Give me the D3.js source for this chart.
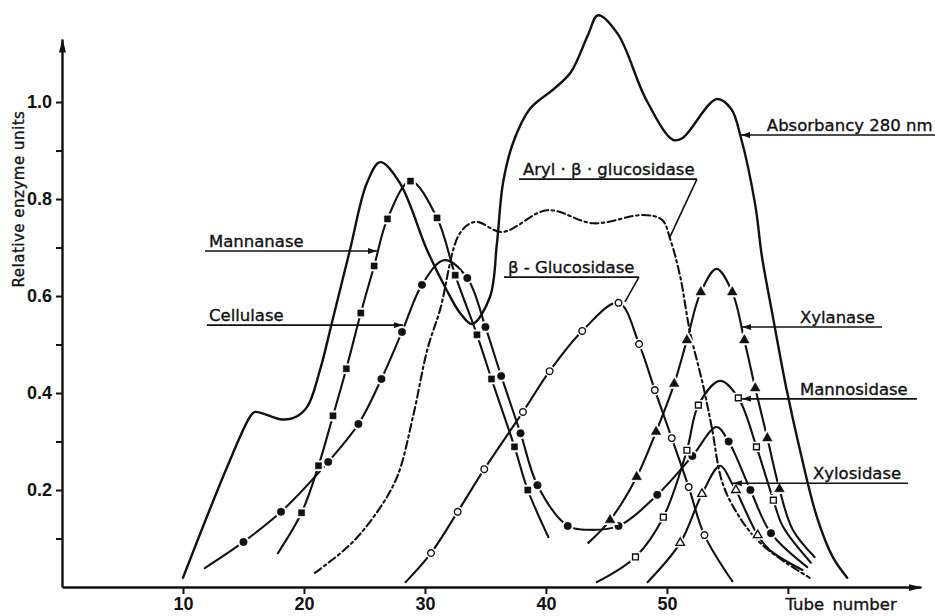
<!DOCTYPE html>
<html>
<head>
<meta charset="utf-8">
<script src="https://cdn.jsdelivr.net/npm/d3@7/dist/d3.min.js"></script>
<style>
body { margin: 0; background: #fff; }
svg { display: block; }
.lbl { font-family: "DejaVu Sans", sans-serif; font-size: 16.5px; fill: #111; stroke: #111; stroke-width: 0.35px; }
.axis text { font-family: "Liberation Sans", Arial, sans-serif; font-weight: bold; font-size: 18px; fill: #111; }
.axis line, .axis path { stroke: #111; }
</style>
</head>
<body>
<div id="chart"></div>
<script>
// Tick values / labels
var xTicks = [10, 20, 30, 40, 50, 60];
var xTickLabels = ["10", "20", "30", "40", "50", ""];
var yTicks = [0.1, 0.2, 0.3, 0.4, 0.5, 0.6, 0.7, 0.8, 0.9, 1.0];
var yTickLabels = ["", "0.2", "", "0.4", "", "0.6", "", "0.8", "", "1.0"];

// Series: [tube number, relative units, measured point (1) or curve only (0)]
var absorbancy = [
	[10.0, 0.019, 0], [13.64, 0.247, 0], [15.54, 0.351, 0], [15.95, 0.361, 0], [18.02, 0.346, 0],
	[19.09, 0.348, 0], [20.25, 0.371, 0], [21.32, 0.447, 0], [22.3, 0.544, 0], [23.8, 0.695, 0],
	[25.2, 0.833, 0], [26.3, 0.876, 0], [27.93, 0.833, 0], [30.17, 0.695, 0], [31.8, 0.612, 0],
	[32.9, 0.565, 0], [33.9, 0.542, 0], [35.37, 0.598, 0], [35.95, 0.709, 0], [36.45, 0.833, 0],
	[37.27, 0.915, 0], [38.68, 0.986, 0], [40.66, 1.027, 0], [42.07, 1.062, 0], [43.5, 1.14, 0],
	[44.3, 1.179, 0], [45.95, 1.14, 0], [48.26, 1.006, 0], [50.5, 0.922, 0], [51.3, 0.926, 0],
	[54.1, 1.006, 0], [55.3, 0.986, 0], [56.1, 0.928, 0], [57.3, 0.788, 0], [57.85, 0.682, 0],
	[58.76, 0.557, 0], [59.9, 0.406, 0], [61.0, 0.282, 0], [62.4, 0.144, 0], [63.7, 0.062, 0],
	[64.9, 0.019, 0]
];
var mannanase = [
	[17.85, 0.07, 0], [19.8, 0.153, 1], [21.2, 0.25, 1], [22.4, 0.353, 1], [23.5, 0.45, 1],
	[24.7, 0.565, 1], [25.8, 0.662, 1], [26.9, 0.759, 1], [28.8, 0.837, 1], [31.0, 0.761, 1],
	[32.5, 0.643, 1], [34.3, 0.52, 1], [35.5, 0.429, 1], [37.4, 0.289, 1], [38.5, 0.20, 1],
	[40.2, 0.103, 0]
];
var cellulase = [
	[11.8, 0.039, 0], [15.0, 0.093, 1], [18.1, 0.155, 1], [22.0, 0.258, 1], [24.5, 0.336, 1],
	[26.4, 0.429, 1], [28.1, 0.526, 1], [29.75, 0.623, 1], [31.6, 0.674, 0], [33.5, 0.637, 1],
	[35.0, 0.536, 1], [36.3, 0.435, 1], [37.9, 0.317, 1], [39.3, 0.21, 1], [41.8, 0.126, 1],
	[43.4, 0.118, 0], [46.0, 0.126, 1], [49.2, 0.19, 1], [52.1, 0.27, 1], [54.1, 0.33, 0],
	[55.1, 0.30, 1], [56.9, 0.20, 1], [58.6, 0.111, 1], [61.6, 0.041, 0]
];
var arylGlucosidase = [
	[20.9, 0.029, 0], [23.8, 0.087, 0], [26.0, 0.153, 0], [27.7, 0.227, 0], [29.0, 0.35, 0],
	[30.2, 0.49, 0], [31.24, 0.571, 0], [32.9, 0.73, 0], [34.2, 0.753, 0], [36.4, 0.732, 0],
	[40.1, 0.777, 0], [43.9, 0.75, 0], [48.0, 0.767, 0], [49.6, 0.757, 0], [50.3, 0.715, 0],
	[51.1, 0.64, 0], [51.9, 0.527, 0], [52.95, 0.42, 0], [53.7, 0.33, 0], [54.6, 0.214, 0],
	[56.0, 0.144, 0], [57.7, 0.091, 0], [59.9, 0.049, 0], [61.8, 0.019, 0]
];
var betaGlucosidase = [
	[28.4, 0.010, 0], [30.5, 0.07, 1], [32.7, 0.155, 1], [34.9, 0.243, 1], [38.1, 0.361, 1],
	[40.3, 0.445, 1], [43.0, 0.528, 1], [46.0, 0.586, 1], [47.7, 0.501, 1], [49.0, 0.406, 1],
	[50.4, 0.307, 1], [51.8, 0.206, 1], [53.1, 0.107, 1], [55.4, 0.012, 0]
];
var xylanase = [
	[43.5, 0.091, 0], [45.3, 0.138, 1], [47.5, 0.227, 1], [49.1, 0.32, 1], [50.6, 0.419, 1],
	[51.65, 0.509, 1], [52.8, 0.608, 1], [54.1, 0.656, 0], [55.4, 0.608, 1], [56.4, 0.509, 1],
	[57.3, 0.41, 1], [58.3, 0.307, 1], [59.3, 0.202, 1], [60.4, 0.118, 0], [62.2, 0.062, 0]
];
var mannosidase = [
	[44.2, 0.01, 0], [47.4, 0.062, 1], [49.7, 0.144, 1], [51.65, 0.282, 1], [52.6, 0.375, 1],
	[54.4, 0.425, 0], [55.9, 0.39, 1], [57.4, 0.289, 1], [58.8, 0.179, 1], [59.6, 0.124, 0],
	[61.9, 0.05, 0]
];
var xylosidase = [
	[48.4, 0.01, 0], [51.1, 0.091, 1], [52.9, 0.192, 1], [54.4, 0.25, 0], [55.37, 0.214, 0],
	[55.7, 0.20, 1], [57.5, 0.107, 1], [58.5, 0.076, 0], [61.2, 0.035, 0]
];

// Labels with leader lines (tube / units coordinates)
var annotations = [
	{text: "Absorbancy 280 nm", v: 0.932, t0: 56.12, t1: 72.15, tText: 58.26, head: "left"},
	{text: "Mannanase", v: 0.693, t0: 11.82, t1: 26.03, tText: 12.15, head: "right"},
	{text: "Cellulase", v: 0.540, t0: 11.98, t1: 28.18, tText: 12.15, head: "right"},
	{text: "Aryl · β · glucosidase", v: 0.841, t0: 37.77, t1: 52.48, tText: 38.1, to: [50.25, 0.722]},
	{text: "β - Glucosidase", v: 0.639, t0: 36.53, t1: 47.69, tText: 36.86, to: [46.53, 0.588]},
	{text: "Xylanase", v: 0.536, t0: 56.2, t1: 67.77, tText: 60.99, head: "left"},
	{text: "Mannosidase", v: 0.388, t0: 56.2, t1: 70.66, tText: 60.99, head: "left"},
	{text: "Xylosidase", v: 0.214, t0: 55.45, t1: 69.92, tText: 62.07, head: "left"}
];

var width = 935, height = 616;
var svg = d3.select("#chart").append("svg")
	.attr("width", width)
	.attr("height", height);

var defs = svg.append("defs");
defs.append("marker").attr("id", "axisArrow")
	.attr("viewBox", "0 0 14 8").attr("refX", 13).attr("refY", 4)
	.attr("markerWidth", 14).attr("markerHeight", 8)
	.attr("markerUnits", "userSpaceOnUse").attr("orient", "auto")
	.append("path").attr("d", "M0,0.5 L14,4 L0,7.5 Z").attr("fill", "#111");
defs.append("marker").attr("id", "leadArrow")
	.attr("viewBox", "0 0 9 7").attr("refX", 9).attr("refY", 3.5)
	.attr("markerWidth", 9).attr("markerHeight", 7)
	.attr("markerUnits", "userSpaceOnUse").attr("orient", "auto")
	.append("path").attr("d", "M0,0.5 L9,3.5 L0,6.5 Z").attr("fill", "#111");

var xScale = d3.scaleLinear().domain([0, 71]).range([62, 921]);
var yScale = d3.scaleLinear().domain([0, 1.13]).range([587, 39]);

// Axes
var xAxis = d3.axisBottom(xScale)
	.tickValues(xTicks)
	.tickFormat(function(d, i) { return xTickLabels[i]; })
	.tickSize(7).tickPadding(3).tickSizeOuter(0);
var gx = svg.append("g").attr("class", "axis")
	.attr("transform", "translate(0," + yScale(0) + ")")
	.call(xAxis);
gx.select(".domain").attr("stroke-width", 2.4).attr("marker-end", "url(#axisArrow)");
gx.selectAll(".tick line").attr("stroke-width", 2);

var yAxis = d3.axisLeft(yScale)
	.tickValues(yTicks)
	.tickFormat(function(d, i) { return yTickLabels[i]; })
	.tickSize(6).tickPadding(4).tickSizeOuter(0);
var gy = svg.append("g").attr("class", "axis")
	.attr("transform", "translate(" + xScale(0) + ",0)")
	.call(yAxis);
gy.select(".domain").attr("stroke-width", 2.4).attr("marker-end", "url(#axisArrow)");
gy.selectAll(".tick line").attr("stroke-width", 2);

svg.append("text")
	.attr("class", "lbl")
	.attr("transform", "translate(24," + yScale(0.8) + ") rotate(-90)")
	.attr("text-anchor", "middle")
	.style("font-size", "15px")
	.style("letter-spacing", "0.5px")
	.text("Relative enzyme units");

svg.append("text")
	.attr("class", "lbl")
	.attr("x", xScale(59.8))
	.attr("y", yScale(0) + 23)
	.style("word-spacing", "3px")
	.text("Tube number");

// Curves
var line = d3.line()
	.x(function(d) { return xScale(d[0]); })
	.y(function(d) { return yScale(d[1]); })
	.curve(d3.curveCatmullRom.alpha(0.5));

var series = [
	{data: absorbancy, marker: null, dash: null, w: 2.4},
	{data: arylGlucosidase, marker: null, dash: "8,3.5,2.5,3.5", w: 2.1},
	{data: mannanase, marker: "sqFill", dash: null, w: 2.1},
	{data: cellulase, marker: "dotFill", dash: null, w: 2.1},
	{data: betaGlucosidase, marker: "dotOpen", dash: null, w: 2.1},
	{data: xylanase, marker: "triFill", dash: null, w: 2.1},
	{data: mannosidase, marker: "sqOpen", dash: null, w: 2.1},
	{data: xylosidase, marker: "triOpen", dash: null, w: 2.1}
];

var shapes = {
	sqFill: {sym: d3.symbolSquare, size: 38, fill: "#111"},
	sqOpen: {sym: d3.symbolSquare, size: 34, fill: "#fff"},
	dotFill: {sym: d3.symbolCircle, size: 44, fill: "#111"},
	dotOpen: {sym: d3.symbolCircle, size: 34, fill: "#fff"},
	triFill: {sym: d3.symbolTriangle, size: 40, fill: "#111"},
	triOpen: {sym: d3.symbolTriangle, size: 32, fill: "#fff"}
};

series.forEach(function(s) {
	svg.append("path")
		.datum(s.data)
		.attr("fill", "none")
		.attr("stroke", "#111")
		.attr("stroke-width", s.w)
		.attr("stroke-linecap", "round")
		.attr("stroke-dasharray", s.dash)
		.attr("d", line);
});

series.forEach(function(s) {
	if (!s.marker) return;
	var sh = shapes[s.marker];
	var pts = s.data.filter(function(d) { return d[2] === 1; });
	var g = svg.append("g");
	// white gap around the marker, as in the drawing
	g.selectAll(".halo").data(pts).enter().append("path")
		.attr("d", d3.symbol().type(sh.sym).size(sh.size))
		.attr("transform", function(d) { return "translate(" + xScale(d[0]) + "," + yScale(d[1]) + ")"; })
		.attr("fill", "#fff").attr("stroke", "#fff").attr("stroke-width", 4.5);
	g.selectAll(".mk").data(pts).enter().append("path")
		.attr("d", d3.symbol().type(sh.sym).size(sh.size))
		.attr("transform", function(d) { return "translate(" + xScale(d[0]) + "," + yScale(d[1]) + ")"; })
		.attr("fill", sh.fill).attr("stroke", "#111").attr("stroke-width", sh.fill === "#fff" ? 1.4 : 0.5);
});

// Labels and leader lines
annotations.forEach(function(a) {
	var y = yScale(a.v);
	svg.append("text").attr("class", "lbl")
		.attr("x", xScale(a.tText))
		.attr("y", y - 4)
		.text(a.text);
	var ln = svg.append("line")
		.attr("stroke", "#111").attr("stroke-width", 1.6)
		.attr("y1", y).attr("y2", y);
	if (a.head === "left") {
		ln.attr("x1", xScale(a.t1)).attr("x2", xScale(a.t0)).attr("marker-end", "url(#leadArrow)");
	} else if (a.head === "right") {
		ln.attr("x1", xScale(a.t0)).attr("x2", xScale(a.t1)).attr("marker-end", "url(#leadArrow)");
	} else {
		ln.attr("x1", xScale(a.t0)).attr("x2", xScale(a.t1));
		svg.append("line")
			.attr("stroke", "#111").attr("stroke-width", 1.6)
			.attr("x1", xScale(a.t1)).attr("y1", y)
			.attr("x2", xScale(a.to[0])).attr("y2", yScale(a.to[1]));
	}
});
</script>
</body>
</html>
